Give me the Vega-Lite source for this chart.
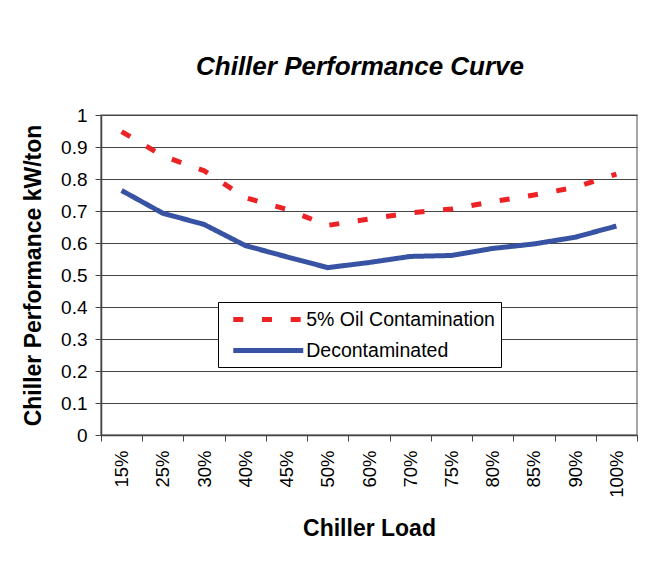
{
  "$schema": "https://vega.github.io/schema/vega-lite/v6.json",
  "autosize": "none",
  "width": 536,
  "height": 320,
  "padding": {"left": 101, "top": 115, "right": 9, "bottom": 138},
  "background": "white",
  "title": {
    "text": "Chiller Performance Curve",
    "font": "Liberation Sans",
    "fontSize": 26,
    "fontWeight": "bold",
    "fontStyle": "italic",
    "color": "black",
    "anchor": "middle",
    "frame": "group",
    "dx": -9,
    "offset": 26
  },
  "data": {
    "values": [
      {"load": "15%", "series": "5% Oil Contamination", "value": 0.948},
      {"load": "25%", "series": "5% Oil Contamination", "value": 0.872},
      {"load": "30%", "series": "5% Oil Contamination", "value": 0.826},
      {"load": "40%", "series": "5% Oil Contamination", "value": 0.742},
      {"load": "45%", "series": "5% Oil Contamination", "value": 0.705},
      {"load": "50%", "series": "5% Oil Contamination", "value": 0.655},
      {"load": "60%", "series": "5% Oil Contamination", "value": 0.675},
      {"load": "70%", "series": "5% Oil Contamination", "value": 0.694},
      {"load": "75%", "series": "5% Oil Contamination", "value": 0.706},
      {"load": "80%", "series": "5% Oil Contamination", "value": 0.729},
      {"load": "85%", "series": "5% Oil Contamination", "value": 0.75},
      {"load": "90%", "series": "5% Oil Contamination", "value": 0.774},
      {"load": "100%", "series": "5% Oil Contamination", "value": 0.815},
      {"load": "15%", "series": "Decontaminated", "value": 0.764},
      {"load": "25%", "series": "Decontaminated", "value": 0.693},
      {"load": "30%", "series": "Decontaminated", "value": 0.658},
      {"load": "40%", "series": "Decontaminated", "value": 0.592},
      {"load": "45%", "series": "Decontaminated", "value": 0.557},
      {"load": "50%", "series": "Decontaminated", "value": 0.523},
      {"load": "60%", "series": "Decontaminated", "value": 0.539},
      {"load": "70%", "series": "Decontaminated", "value": 0.558},
      {"load": "75%", "series": "Decontaminated", "value": 0.561},
      {"load": "80%", "series": "Decontaminated", "value": 0.583},
      {"load": "85%", "series": "Decontaminated", "value": 0.597},
      {"load": "90%", "series": "Decontaminated", "value": 0.618},
      {"load": "100%", "series": "Decontaminated", "value": 0.653}
    ]
  },
  "mark": {"type": "line", "strokeWidth": 5, "strokeCap": "butt"},
  "encoding": {
    "x": {
      "field": "load",
      "type": "ordinal",
      "sort": null,
      "scale": {"type": "band", "paddingInner": 0, "paddingOuter": 0},
      "axis": {
        "title": "Chiller Load",
        "titleFont": "Liberation Sans",
        "titleFontSize": 23,
        "titleFontWeight": "bold",
        "titleColor": "black",
        "titleY": 100,
        "titleBaseline": "alphabetic",
        "labelFont": "Liberation Sans",
        "labelFontSize": 18.5,
        "labelColor": "black",
        "labelAngle": -90,
        "labelPadding": 9,
        "tickBand": "extent",
        "tickSize": 6,
        "tickColor": "#444",
        "domainColor": "#444",
        "domainWidth": 1.5,
        "grid": false
      }
    },
    "y": {
      "field": "value",
      "type": "quantitative",
      "scale": {"domain": [0, 1], "nice": false},
      "axis": {
        "title": "Chiller Performance kW/ton",
        "titleFont": "Liberation Sans",
        "titleFontSize": 23,
        "titleFontWeight": "bold",
        "titleColor": "black",
        "titleX": -68,
        "titleY": 160,
        "titleAngle": -90,
        "titleAlign": "center",
        "titleBaseline": "middle",
        "values": [0, 0.1, 0.2, 0.3, 0.4, 0.5, 0.6, 0.7, 0.8, 0.9, 1],
        "labelExpr": "format(datum.value, '.1~f')",
        "labelFont": "Liberation Sans",
        "labelFontSize": 19,
        "labelColor": "black",
        "labelPadding": 8,
        "tickSize": 6,
        "tickColor": "#444",
        "domainColor": "#444",
        "domainWidth": 1.5,
        "grid": true,
        "gridColor": "#444",
        "gridWidth": 1
      }
    },
    "color": {
      "field": "series",
      "type": "nominal",
      "scale": {"domain": ["5% Oil Contamination", "Decontaminated"], "range": ["#ED2224", "#3953A4"]},
      "legend": {
        "title": null,
        "orient": "none",
        "legendX": 117,
        "legendY": 187,
        "direction": "vertical",
        "strokeColor": "black",
        "fillColor": "white",
        "padding": 6,
        "symbolType": "M-4,0H4",
        "symbolSize": 306,
        "symbolStrokeWidth": 5,
        "symbolOffset": 32.75,
        "labelFont": "Liberation Sans",
        "labelFontSize": 19.5,
        "labelColor": "black",
        "labelLimit": 400,
        "labelOffset": 26.5,
        "rowPadding": 9
      }
    },
    "strokeDash": {
      "field": "series",
      "type": "nominal",
      "scale": {"domain": ["5% Oil Contamination", "Decontaminated"], "range": [[10, 18.7], [1, 0]]},
      "legend": null
    }
  },
  "config": {
    "view": {"stroke": "#888", "strokeWidth": 1.5}
  }
}
